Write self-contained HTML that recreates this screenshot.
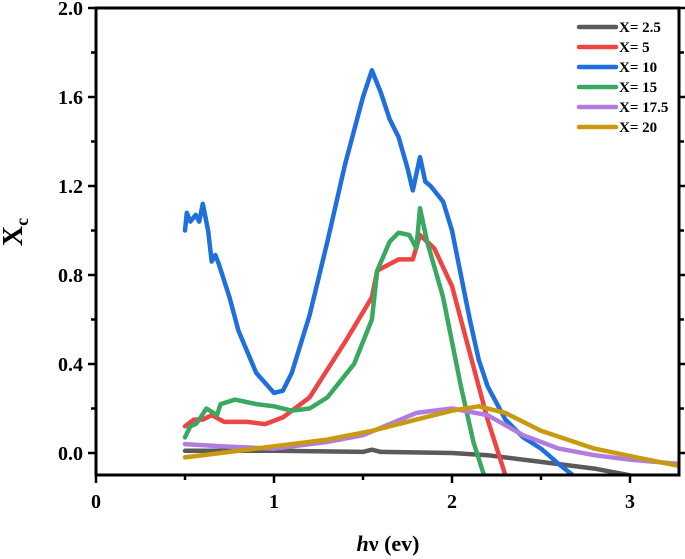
<!DOCTYPE html>
<html><head><meta charset="utf-8"><style>
body{margin:0;background:#fff;}
svg{display:block;font-family:"Liberation Serif",serif;font-weight:bold;}
</style></head><body>
<svg id="chart" width="685" height="559">
<g id="series"></g>
<g id="axes"></g>
<g id="legend"></g>
<text transform="translate(22,232) rotate(-90)" text-anchor="middle" font-size="28">X<tspan font-size="18" dy="6">c</tspan></text>
<text x="388" y="551" text-anchor="middle" font-size="22"><tspan font-style="italic">h</tspan>ν (ev)</text>
</svg>
<script>
const yTicks=[0,0.4,0.8,1.2,1.6,2.0];
const xTicks=[0,1,2,3];
const names=["X= 2.5","X= 5","X= 10","X= 15","X= 17.5","X= 20"];
const colors=["#5a5a5a","#ee4444","#1f6fdc","#3aa860","#b07ce0","#c99a10"];
const xs_gray=[0.5,1.0,1.5,1.55,1.6,2.0,2.2,2.5,2.8,3.0];
const ys_gray=[0.01,0.01,0.005,0.015,0.005,0.0,-0.01,-0.04,-0.07,-0.1];
const xs_red=[0.5,0.55,0.6,0.65,0.72,0.85,0.95,1.05,1.2,1.4,1.55,1.58,1.7,1.78,1.82,1.9,2.0,2.1,2.2,2.3];
const ys_red=[0.12,0.15,0.15,0.17,0.14,0.14,0.13,0.16,0.25,0.5,0.7,0.82,0.87,0.87,0.98,0.92,0.75,0.45,0.15,-0.1];
const xs_blue=[0.5,0.51,0.53,0.56,0.58,0.6,0.63,0.65,0.67,0.69,0.75,0.8,0.9,1.0,1.05,1.1,1.2,1.3,1.4,1.5,1.55,1.6,1.65,1.7,1.75,1.78,1.82,1.85,1.88,1.95,2.0,2.05,2.1,2.15,2.2,2.3,2.4,2.5,2.6,2.68];
const ys_blue=[1.0,1.08,1.04,1.07,1.04,1.12,1.0,0.86,0.89,0.85,0.7,0.55,0.36,0.27,0.28,0.36,0.62,0.95,1.3,1.6,1.72,1.62,1.5,1.42,1.28,1.18,1.33,1.22,1.2,1.13,1.0,0.8,0.6,0.42,0.3,0.15,0.07,0.02,-0.05,-0.1];
const xs_green=[0.5,0.53,0.56,0.58,0.62,0.66,0.68,0.7,0.78,0.9,1.0,1.1,1.2,1.3,1.45,1.55,1.58,1.65,1.7,1.76,1.8,1.82,1.86,1.95,2.0,2.05,2.12,2.18];
const ys_green=[0.07,0.12,0.13,0.15,0.2,0.18,0.17,0.22,0.24,0.22,0.21,0.19,0.2,0.25,0.4,0.6,0.82,0.95,0.99,0.98,0.92,1.1,0.95,0.7,0.5,0.3,0.05,-0.1];
const xs_purple=[0.5,0.7,1.0,1.3,1.5,1.8,2.0,2.2,2.4,2.6,2.8,3.0,3.29];
const ys_purple=[0.04,0.03,0.02,0.05,0.08,0.18,0.2,0.17,0.08,0.02,-0.01,-0.03,-0.05];
const xs_gold=[0.5,0.7,1.0,1.3,1.55,1.8,2.0,2.15,2.3,2.5,2.8,3.1,3.29];
const ys_gold=[-0.02,0.0,0.03,0.06,0.1,0.15,0.19,0.21,0.18,0.1,0.02,-0.03,-0.06];
const seriesX=[xs_gray,xs_red,xs_blue,xs_green,xs_purple,xs_gold];
const seriesY=[ys_gray,ys_red,ys_blue,ys_green,ys_purple,ys_gold];

const L=96,R=679,T=8,B=475;
const X=v=>96+v*178;
const Y=v=>453-v*222.5;
const NS="http://www.w3.org/2000/svg";
function mk(tag,attrs,parent){const e=document.createElementNS(NS,tag);for(const k in attrs)e.setAttribute(k,attrs[k]);parent.appendChild(e);return e;}
const axes=document.getElementById('axes');
const sg=document.getElementById('series');
const lg=document.getElementById('legend');
const clip=mk('clipPath',{id:'cp'},document.getElementById('chart'));
mk('rect',{x:L,y:T,width:R-L,height:B-T},clip);
sg.setAttribute('clip-path','url(#cp)');
for(let i=0;i<seriesX.length;i++){
  const d=seriesX[i].map((x,j)=>(j?'L':'M')+X(x).toFixed(1)+','+Y(seriesY[i][j]).toFixed(1)).join('');
  const p=mk('path',{d:d,fill:'none',stroke:colors[i],'stroke-width':4.5,'stroke-linejoin':'round','stroke-linecap':'round'},sg);
  
  
  const ly=27+i*20;
  const ll=mk('line',{x1:579,x2:616,y1:ly,y2:ly,stroke:colors[i],'stroke-width':4.5,'stroke-linecap':'round'},lg);
  
  
  const lt=mk('text',{x:619,y:ly+5,'font-size':15},lg);
  lt.textContent=names[i];
  
  
}
const fr=mk('rect',{x:L,y:T,width:R-L,height:B-T,fill:'none',stroke:'#000','stroke-width':3},axes);


for(let k=0;k<=10;k++){
  const v=k*0.2;
  const big=k%2===0;
  mk('line',{x1:L,x2:L-(big?8:5),y1:Y(v),y2:Y(v),stroke:'#000','stroke-width':2.5},axes);
  mk('line',{x1:R,x2:R+(big?8:5),y1:Y(v),y2:Y(v),stroke:'#000','stroke-width':2.5},axes);
}
yTicks.forEach(v=>{const t=mk('text',{x:L-13,y:Y(v)+7,'text-anchor':'end','font-size':20},axes);t.textContent=v.toFixed(1);
  });
for(let k=0;k<=6;k++){
  const v=k*0.5;
  const big=k%2===0;
  mk('line',{x1:X(v),x2:X(v),y1:B,y2:B+(big?8:5),stroke:'#000','stroke-width':2.5},axes);
}
xTicks.forEach(v=>{const t=mk('text',{x:X(v),y:B+33,'text-anchor':'middle','font-size':20},axes);t.textContent=v;
  });
</script>
</body></html>
